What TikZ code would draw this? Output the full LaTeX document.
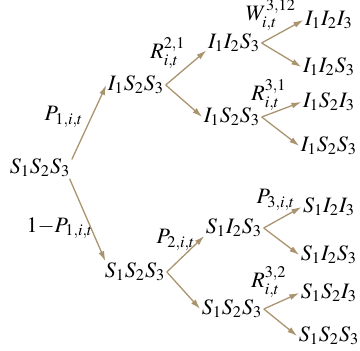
\documentclass[tikz,border=0pt]{standalone}
\usepackage{mathptmx}
\usetikzlibrary{arrows.meta}
\definecolor{branchtan}{RGB}{170,148,112}
\tikzset{
  state/.style={font=\fontsize{11}{13}\selectfont, inner sep=0.6pt},
  rate/.style={font=\fontsize{11}{13}\selectfont, inner sep=1pt},
  branch/.style={draw=branchtan, line width=0.65pt, -{Latex[length=5pt,width=3pt]}}
}

\begin{document}
\begin{tikzpicture}[x=0.5pt,y=0.5pt]
\useasboundingbox (0,-351) rectangle (360,0);
% states
\node[state] (root) at (40,-168) {$S_1S_2S_3$};
\node[state] (a) at (136,-85) {$I_1S_2S_3$};
\node[state] (b) at (135,-272) {$S_1S_2S_3$};
\node[state] (aa) at (234,-43) {$I_1I_2S_3$};
\node[state] (ab) at (232,-117) {$I_1S_2S_3$};
\node[state] (ba) at (234,-228) {$S_1I_2S_3$};
\node[state] (bb) at (232,-309) {$S_1S_2S_3$};
\node[state] (aaa) at (329,-20) {$I_1I_2I_3$};
\node[state] (aab) at (329,-67) {$I_1I_2S_3$};
\node[state] (aba) at (329,-102) {$I_1S_2I_3$};
\node[state] (abb) at (329,-146) {$I_1S_2S_3$};
\node[state] (baa) at (329,-207) {$S_1I_2I_3$};
\node[state] (bab) at (329,-255) {$S_1I_2S_3$};
\node[state] (bba) at (329,-293) {$S_1S_2I_3$};
\node[state] (bbb) at (329,-336) {$S_1S_2S_3$};
% rates
\node[rate] (p1) at (64,-117) {$P_{1,i,t}$};
\node[rate] (q1) at (60,-228) {$1{-}P_{1,i,t}$};
\node[rate] (r21) at (168,-53) {$R^{2,1}_{i,t}$};
\node[rate] (p2) at (176,-240) {$P_{2,i,t}$};
\node[rate] (w312) at (271,-15) {$W^{3,12}_{i,t}$};
\node[rate] (r31) at (269,-95) {$R^{3,1}_{i,t}$};
\node[rate] (p3) at (276,-200) {$P_{3,i,t}$};
\node[rate] (r32) at (269,-282) {$R^{3,2}_{i,t}$};
% branches
\draw[branch] (root.15) -- (a.west);
\draw[branch] (root.-20) -- (b.160);
\draw[branch] (a.east) -- (aa.195);
\draw[branch] (a.east) -- (ab.west);
\draw[branch] (b.east) -- (ba.195);
\draw[branch] (b.east) -- (bb.west);
\draw[branch] (aa.east) -- (aaa.west);
\draw[branch] (aa.east) -- (aab.west);
\draw[branch] (ab.east) -- (aba.west);
\draw[branch] (ab.east) -- (abb.west);
\draw[branch] (ba.east) -- (baa.west);
\draw[branch] (ba.east) -- (bab.west);
\draw[branch] (bb.east) -- (bba.west);
\draw[branch] (bb.east) -- (bbb.west);
\end{tikzpicture}
\end{document}
